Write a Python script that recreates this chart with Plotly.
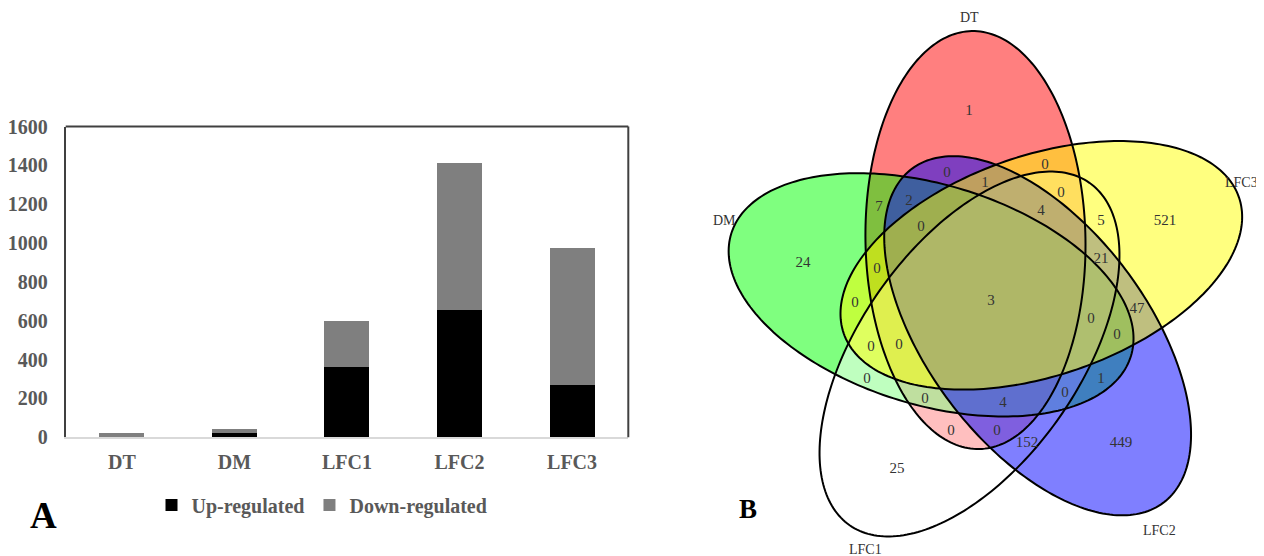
import numpy as np
import plotly.graph_objects as go

# ---------------- Panel A data ----------------
categories = ["DT", "DM", "LFC1", "LFC2", "LFC3"]
up_regulated = [1, 22, 363, 655, 269]
down_regulated = [21, 19, 235, 755, 707]
y_ticks = [0, 200, 400, 600, 800, 1000, 1200, 1400, 1600]

# ---------------- Panel B data ----------------
set_names = ["DT", "DM", "LFC1", "LFC2", "LFC3"]
region_members = [
    "DT", "DT&LFC2", "DT&DM&LFC2", "DT&DM", "DT&DM&LFC2&LFC3", "DM",
    "DT&DM&LFC3", "DT&LFC3", "DT&LFC2&LFC3", "DT&LFC1&LFC3",
    "DT&LFC1&LFC2&LFC3", "LFC1&LFC3", "LFC3", "LFC1&LFC2&LFC3",
    "DM&LFC3", "DM&LFC1&LFC3", "DT&DM&LFC1&LFC3", "DM&LFC1", "DT&DM&LFC1",
    "DT&LFC1", "LFC1", "DT&DM&LFC1&LFC2&LFC3", "DM&LFC1&LFC2&LFC3",
    "LFC2&LFC3", "DM&LFC2&LFC3", "DM&LFC2", "DM&LFC1&LFC2",
    "DT&DM&LFC1&LFC2", "DT&LFC1&LFC2", "LFC1&LFC2", "LFC2",
]
region_counts = [1, 0, 2, 7, 0, 24, 0, 0, 1, 0, 4, 5, 521, 21, 0, 0, 0, 0, 0,
                 0, 25, 3, 0, 47, 0, 1, 0, 4, 0, 152, 449]

# ---------------- styles / geometry (page pixel units) ----------------
SERIF = "Liberation Serif, Times New Roman, serif"
GRAY_TXT = "#595959"
OFF = 8                      # page body margin
W, H = 1264 - OFF, 556 - OFF  # figure size


def fx(p):  # page x pixel -> paper fraction
    return (p - OFF) / W


def fy(p):  # page y pixel -> paper fraction
    return 1 - (p - OFF) / H


set_fills = ["rgba(255,0,0,0.5)", "rgba(0,255,0,0.5)", "rgba(255,255,255,0.5)",
             "rgba(0,0,255,0.5)", "rgba(255,255,0,0.5)"]
V_CENTER = (991.0, 298.0)
V_OFFSET = 60.0
A_AX, B_AX = 209.0, 110.0
PHI0, PSI0 = 105.0, 91.0
TEXT_DY = 3
set_label_pos = {"DT": (969, 17), "DM": (724, 220), "LFC1": (865, 549),
                 "LFC2": (1159, 530), "LFC3": (1241, 182)}

ellipses = []
for k in range(5):
    phi = np.radians(PHI0 + 72 * k)
    cx = V_CENTER[0] + V_OFFSET * np.cos(phi)
    cy = V_CENTER[1] - V_OFFSET * np.sin(phi)
    ellipses.append((cx, cy, PSI0 + 72 * k))


def ellipse_xy(cx, cy, psi_deg, n=240):
    t = np.linspace(0, 2 * np.pi, n, endpoint=False)
    ps = np.radians(psi_deg)
    ux, uy = np.cos(ps), -np.sin(ps)
    vx, vy = np.sin(ps), np.cos(ps)
    x = cx + A_AX * np.cos(t) * ux + B_AX * np.sin(t) * vx
    y = cy + A_AX * np.cos(t) * uy + B_AX * np.sin(t) * vy
    return x, y


def to_path(x, y):
    s = "M %.2f,%.2f " % (x[0], y[0])
    s += " ".join("L %.2f,%.2f" % (a, b) for a, b in zip(x[1:], y[1:]))
    return s + " Z"


# label positions: region centroid snapped into the deep part of the region
gx, gy = np.meshgrid(np.arange(715, 1255, 2.0), np.arange(20, 550, 2.0))
px, py = gx.ravel(), gy.ravel()
code = np.zeros(px.size, dtype=int)
bxs, bys = [], []
for k, (cx, cy, psi) in enumerate(ellipses):
    ps = np.radians(psi)
    ux, uy = np.cos(ps), -np.sin(ps)
    vx, vy = np.sin(ps), np.cos(ps)
    dx, dy = px - cx, py - cy
    u = dx * ux + dy * uy
    v = dx * vx + dy * vy
    code += ((u / A_AX) ** 2 + (v / B_AX) ** 2 < 1).astype(int) << k
    bx, by = ellipse_xy(cx, cy, psi, 360)
    bxs.append(bx)
    bys.append(by)
bx = np.concatenate(bxs)
by = np.concatenate(bys)
dist = np.empty(px.size)
for s in range(0, px.size, 4000):
    d2 = (px[s:s + 4000, None] - bx[None, :]) ** 2 + (py[s:s + 4000, None] - by[None, :]) ** 2
    dist[s:s + 4000] = np.sqrt(d2.min(axis=1))

lab_x, lab_y, lab_t = [], [], []
for mem, cnt in zip(region_members, region_counts):
    rc = sum(1 << set_names.index(m) for m in mem.split("&"))
    mask = np.where(code == rc)[0]
    if mask.size == 0:
        continue
    dm = dist[mask]
    mx, my = px[mask].mean(), py[mask].mean()
    deep = mask[dm >= 0.5 * dm.max()]
    i = deep[np.argmin((px[deep] - mx) ** 2 + (py[deep] - my) ** 2)]
    lab_x.append(px[i])
    lab_y.append(py[i] + TEXT_DY)
    lab_t.append(str(cnt))

# ---------------- figure ----------------
fig = go.Figure()
fig.add_trace(go.Bar(x=categories, y=up_regulated, name="Up-regulated",
                     marker=dict(color="#000000", line=dict(width=0)),
                     xaxis="x", yaxis="y"))
fig.add_trace(go.Bar(x=categories, y=down_regulated, name="Down-regulated",
                     marker=dict(color="#7f7f7f", line=dict(width=0)),
                     xaxis="x", yaxis="y"))
fig.add_trace(go.Scatter(x=lab_x, y=lab_y, text=lab_t, mode="text",
                         textposition="middle center",
                         textfont=dict(family=SERIF, size=15, color="#333333"),
                         showlegend=False, hoverinfo="skip", cliponaxis=False,
                         xaxis="x2", yaxis="y2"))

shapes = []
for k, (cx, cy, psi) in enumerate(ellipses):
    x, y = ellipse_xy(cx, cy, psi)
    shapes.append(dict(type="path", path=to_path(x, y), xref="x2", yref="y2",
                       fillcolor=set_fills[k], line=dict(width=0), layer="below"))
for k, (cx, cy, psi) in enumerate(ellipses):
    x, y = ellipse_xy(cx, cy, psi)
    shapes.append(dict(type="path", path=to_path(x, y), xref="x2", yref="y2",
                       fillcolor="rgba(0,0,0,0)", line=dict(color="black", width=2),
                       layer="below"))
# top & right border of bar plot
shapes.append(dict(type="line", xref="x domain", yref="y domain", x0=0, x1=1, y0=1, y1=1,
                   line=dict(color="#404040", width=2)))
shapes.append(dict(type="line", xref="x domain", yref="y domain", x0=1, x1=1, y0=0, y1=1,
                   line=dict(color="#404040", width=2)))

annotations = []
for nm in set_names:
    lx, ly = set_label_pos[nm]
    annotations.append(dict(x=lx, y=ly, xref="x2", yref="y2", text=nm, showarrow=False,
                            xanchor="center", yanchor="middle",
                            font=dict(family=SERIF, size=14, color="#333333")))
annotations.append(dict(x=fx(43), y=fy(515), xref="paper", yref="paper",
                        text="A", showarrow=False, xanchor="center", yanchor="middle",
                        font=dict(family=SERIF, size=37, color="black", weight="bold")))
annotations.append(dict(x=fx(748), y=fy(509), xref="paper", yref="paper",
                        text="B", showarrow=False, xanchor="center", yanchor="middle",
                        font=dict(family=SERIF, size=27, color="black", weight="bold")))

fig.update_layout(
    width=W, height=H, margin=dict(l=0, r=0, t=0, b=0, pad=0, autoexpand=False),
    paper_bgcolor="white", plot_bgcolor="rgba(0,0,0,0)",
    barmode="stack", bargap=0.6,
    shapes=shapes, annotations=annotations,
    legend=dict(orientation="h", x=fx(322), xanchor="center", y=fy(505),
                yanchor="middle", traceorder="normal", itemwidth=30,
                bgcolor="rgba(0,0,0,0)",
                font=dict(family=SERIF, size=20, color=GRAY_TXT, weight="bold")),
    xaxis=dict(domain=[fx(65.7), fx(628.3)], type="category", anchor="y",
               automargin=False,
               showline=True, linecolor="#d9d9d9", linewidth=2, ticks="",
               showgrid=False, ticklabelstandoff=6,
               tickfont=dict(family=SERIF, size=20, color=GRAY_TXT, weight="bold")),
    yaxis=dict(domain=[fy(437.3), fy(126.5)], range=[0, 1600],
               anchor="x", tickvals=y_ticks, showgrid=False, zeroline=False,
               automargin=False,
               showline=True, linecolor="#404040", linewidth=2, ticks="",
               ticklabelstandoff=12,
               tickfont=dict(family=SERIF, size=20, color=GRAY_TXT, weight="bold")),
    xaxis2=dict(domain=[0.5, 1], range=[OFF + W / 2, OFF + W], anchor="y2", visible=False,
                automargin=False, showgrid=False, zeroline=False),
    yaxis2=dict(domain=[0, 1], range=[OFF + H, OFF], anchor="x2", visible=False,
                automargin=False, showgrid=False, zeroline=False),
)

fig.write_html("out.html")
